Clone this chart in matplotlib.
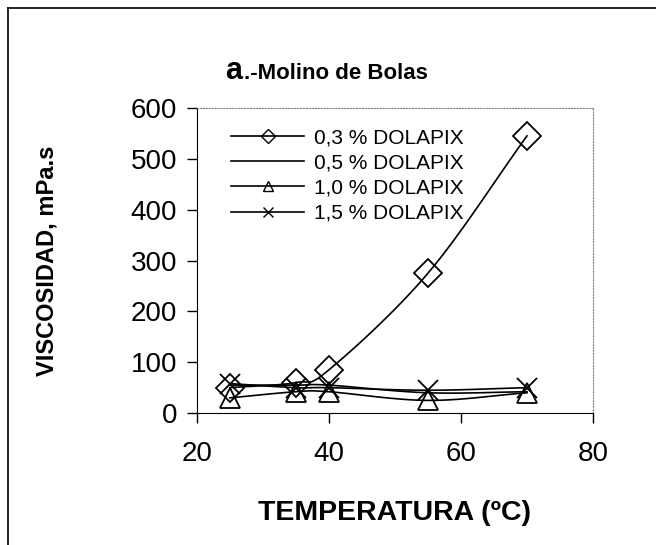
import numpy as np
import matplotlib
matplotlib.use("Agg")
from matplotlib import pyplot as plt
from matplotlib.lines import Line2D

plt.rcParams['font.family'] = ['Liberation Sans', 'DejaVu Sans']

temp = [25, 35, 40, 55, 70]
v03 = [50, 60, 85, 275, 545]
v05 = [55, 55, 55, 40, 42]
v10 = [30, 42, 42, 25, 40]
v15 = [58, 50, 50, 45, 50]
labels = ['0,3 % DOLAPIX', '0,5 % DOLAPIX', '1,0 % DOLAPIX', '1,5 % DOLAPIX']


def smooth(x, y, n=30):
    # catmull-rom curve through the points, like the excel smoothed line
    x = np.asarray(x, float)
    y = np.asarray(y, float)
    px = np.concatenate([[2 * x[0] - x[1]], x, [2 * x[-1] - x[-2]]])
    py = np.concatenate([[2 * y[0] - y[1]], y, [2 * y[-1] - y[-2]]])
    xs, ys = [], []
    t = np.linspace(0, 1, n)
    for i in range(1, len(px) - 2):
        for p, out in ((px, xs), (py, ys)):
            p0, p1, p2, p3 = p[i - 1], p[i], p[i + 1], p[i + 2]
            out.extend(0.5 * ((2 * p1) + (-p0 + p2) * t
                              + (2 * p0 - 5 * p1 + 4 * p2 - p3) * t ** 2
                              + (-p0 + 3 * p1 - 3 * p2 + p3) * t ** 3))
    return xs, ys


fig = plt.figure(figsize=(6.56, 5.45), dpi=100)
ax = fig.add_axes([0.300, 0.242, 0.604, 0.560])

series = [(v03, 'D'), (v05, None), (v10, '^'), (v15, 'x')]
handles = []
for (vals, m), lab in zip(series, labels):
    sx, sy = smooth(temp, vals)
    ax.plot(sx, sy, color='black', lw=1.2)
    if m:
        ax.plot(temp, vals, linestyle='none', marker=m, ms=14, mfc='none',
                mec='black', mew=1.3)
    handles.append(Line2D([], [], color='black', lw=1.2, marker=m, ms=7,
                          mfc='none', mec='black'))

ax.set_xlim(20, 80)
ax.set_ylim(0, 600)
ax.set_xticks([20, 40, 60, 80])
ax.set_yticks(range(0, 601, 100))
ax.tick_params(labelsize=20, length=7, width=1)
ax.tick_params(axis='x', pad=13)
ax.tick_params(axis='y', pad=7)
for s in ['top', 'right']:
    ax.spines[s].set_linestyle(':')
    ax.spines[s].set_color('gray')
    ax.spines[s].set_linewidth(0.8)

ax.set_xlabel('TEMPERATURA (ºC)', fontsize=20.5, fontweight='bold', labelpad=24)
ax.set_ylabel('VISCOSIDAD, mPa.s', fontsize=17, fontweight='bold', labelpad=52)

ax.legend(handles, labels, loc='upper left', frameon=False, fontsize=15,
          handlelength=3.5, handletextpad=0.45, labelspacing=0.3,
          bbox_to_anchor=(0.04, 0.995))

fig.text(0.343, 0.855, 'a', fontsize=22, fontweight='bold', ha='left',
         va='baseline')
fig.text(0.372, 0.855, '.-Molino de Bolas', fontsize=16, fontweight='bold',
         ha='left', va='baseline')

fig.add_artist(Line2D([0.012, 0.012], [0.0, 0.985], color='black', lw=1.2))
fig.add_artist(Line2D([0.012, 1.0], [0.985, 0.985], color='black', lw=1.2))

fig.savefig('out.png')
